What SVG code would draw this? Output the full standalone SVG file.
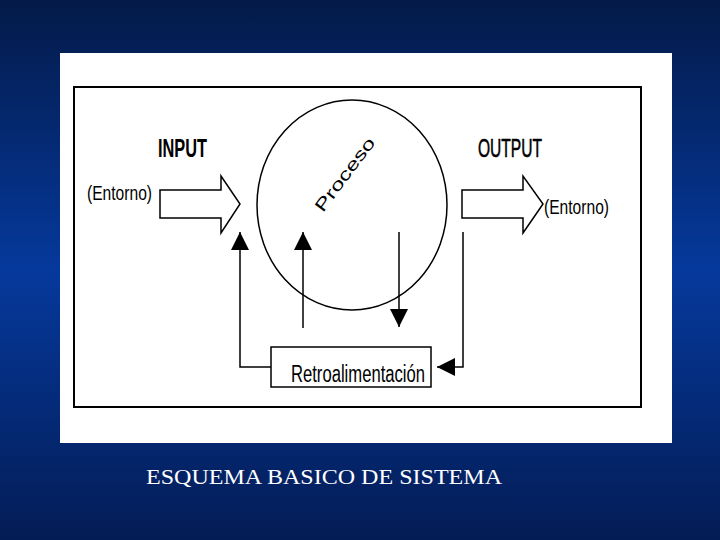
<svg xmlns="http://www.w3.org/2000/svg" width="720" height="540" viewBox="0 0 720 540">
<defs>
<linearGradient id="bg" x1="0" y1="0" x2="0" y2="1">
<stop offset="0" stop-color="#041a48"/>
<stop offset="0.5" stop-color="#05399c"/>
<stop offset="1" stop-color="#041c55"/>
</linearGradient>
<marker id="tri" viewBox="0 0 10 10" refX="10" refY="5" markerWidth="18" markerHeight="24" markerUnits="userSpaceOnUse" orient="auto">
<path d="M0,0 L10,5 L0,10 Z" fill="#000"/>
</marker>
</defs>
<style>
.ln{fill:none;stroke:#000;stroke-width:1.5}
.lbl{font-family:"Liberation Sans",Arial,sans-serif;fill:#000}
</style>
<rect width="720" height="540" fill="url(#bg)"/>
<rect x="60" y="53" width="612" height="390" fill="#fff"/>
<rect x="74" y="87" width="567" height="320" fill="none" stroke="#000" stroke-width="2"/>

<g id="proceso">
<ellipse cx="352" cy="205" rx="95" ry="105" class="ln" stroke-width="1.3"/>
<text class="lbl" font-size="17" transform="translate(323,213) rotate(-53)" textLength="88" lengthAdjust="spacingAndGlyphs">Proceso</text>
</g>

<g id="input">
<path d="M160,190 H221 V176 L240,204 L221,233 V218 H160 Z" fill="#fff" stroke="#000" stroke-width="1.5"/>
<text class="lbl" x="158" y="157" font-size="26" font-weight="bold" textLength="49" lengthAdjust="spacingAndGlyphs">INPUT</text>
<text class="lbl" x="87" y="200" font-size="20" textLength="65" lengthAdjust="spacingAndGlyphs">(Entorno)</text>
</g>

<g id="output">
<path d="M462,190 H523 V176 L543,204 L523,233 V218 H462 Z" fill="#fff" stroke="#000" stroke-width="1.5"/>
<text class="lbl" x="478" y="157" font-size="26" stroke="#000" stroke-width="0.6" textLength="64" lengthAdjust="spacingAndGlyphs">OUTPUT</text>
<text class="lbl" x="544" y="214" font-size="20" textLength="65" lengthAdjust="spacingAndGlyphs">(Entorno)</text>
</g>

<g id="retroalimentacion">
<rect x="271" y="347" width="160" height="40" fill="#fff" stroke="#000" stroke-width="1.5"/>
<text class="lbl" x="291" y="382" font-size="23" textLength="134" lengthAdjust="spacingAndGlyphs">Retroalimentación</text>
</g>

<g id="connectors">
<path d="M271,367 H240 V232" class="ln" marker-end="url(#tri)"/>
<path d="M303,328 V232" class="ln" marker-end="url(#tri)"/>
<path d="M399,232 V327" class="ln" marker-end="url(#tri)"/>
<path d="M463,232 V367 H437" class="ln" marker-end="url(#tri)"/>
</g>

<text x="146" y="484" font-family="'Liberation Serif','Times New Roman',serif" font-size="22" fill="#fff" textLength="356" lengthAdjust="spacingAndGlyphs">ESQUEMA BASICO DE SISTEMA</text>
</svg>
